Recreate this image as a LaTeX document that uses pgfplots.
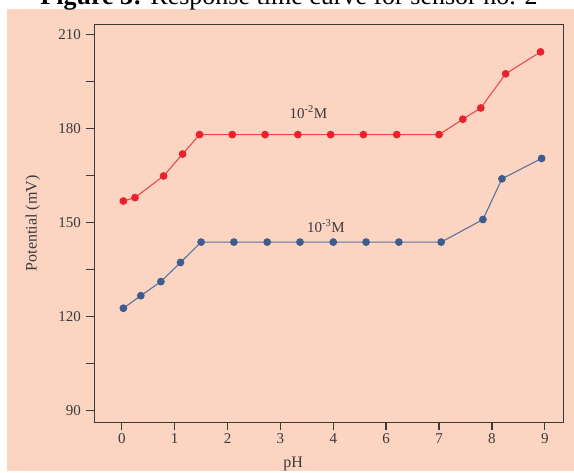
\documentclass[border=0pt]{standalone}
\usepackage{fontspec}
\setmainfont{Liberation Serif}
\usepackage{pgfplots}
\pgfplotsset{compat=1.18}

\definecolor{peach}{HTML}{FCD4C2}
\definecolor{dotred}{HTML}{E8232B}
\definecolor{linered}{HTML}{EE474E}
\definecolor{dotblue}{HTML}{3E5C8E}
\definecolor{lineblue}{HTML}{5A73A0}
\definecolor{frame}{HTML}{3A3A3A}

\begin{document}
\begin{tikzpicture}[x=1pt,y=1pt]
\useasboundingbox (0,0) rectangle (574,473);
\clip (0,0) rectangle (574,473);
\fill[peach] (7,2) rectangle (574,464);
\node[anchor=base, font=\fontsize{26}{30}\selectfont] at (289,468)
  {\textbf{Figure 3:} Response time curve for sensor no. 2};

\begin{axis}[
  at={(94.3pt,50.7pt)}, anchor=south west,
  scale only axis, width=469pt, height=398pt,
  xmin=-0.52, xmax=8.35, ymin=86.2, ymax=213.2,
  axis line style={frame, line width=1.4pt},
  every tick/.style={frame, line width=1.4pt},
  tick align=outside, major tick length=8pt, minor tick length=8pt,
  xtick pos=lower, ytick pos=left,
  xtick={0,...,8}, xticklabels={0,1,2,3,4,6,7,8,9},
  ytick={90,120,150,180,210}, minor ytick={105,135,165,195},
  tick label style={font=\fontsize{15}{17}\selectfont, text=frame},
  yticklabel style={xshift=-2pt},
  /pgf/number format/assume math mode=true,
  xlabel={pH}, ylabel={Potential (mV)},
  label style={font=\fontsize{16}{18}\selectfont, text=frame},
  xlabel style={at={(axis description cs:0.424,-0.105)}, anchor=center},
  ylabel style={at={(axis description cs:-0.131,0.50)}, anchor=center},
  clip=false,
]
% 10^-2 M
\addplot[linered, line width=1.1pt, mark=*, mark size=3.3pt,
  mark options={fill=dotred, draw=dotred}] coordinates {
  (0.03,156.8)(0.25,157.9)(0.79,164.8)(1.15,171.8)(1.47,178.0)
  (2.09,178.0)(2.71,178.0)(3.33,178.0)(3.95,178.0)(4.57,178.0)
  (5.20,178.0)(6.00,178.0)(6.45,182.9)(6.79,186.5)(7.26,197.4)(7.92,204.4)};
% 10^-3 M
\addplot[lineblue, line width=1.1pt, mark=*, mark size=3.3pt,
  mark options={fill=dotblue, draw=dotblue}] coordinates {
  (0.03,122.6)(0.36,126.6)(0.74,131.1)(1.11,137.2)(1.50,143.7)
  (2.12,143.7)(2.75,143.7)(3.37,143.7)(4.00,143.7)(4.62,143.7)
  (5.24,143.7)(6.04,143.7)(6.83,150.9)(7.19,163.9)(7.94,170.4)};
\node[font=\fontsize{15}{17}\selectfont, text=frame] at (axis cs:3.53,185.2) {10\textsuperscript{-2}M};
\node[font=\fontsize{15}{17}\selectfont, text=frame] at (axis cs:3.86,148.8) {10\textsuperscript{-3}M};
\end{axis}
\end{tikzpicture}
\end{document}
